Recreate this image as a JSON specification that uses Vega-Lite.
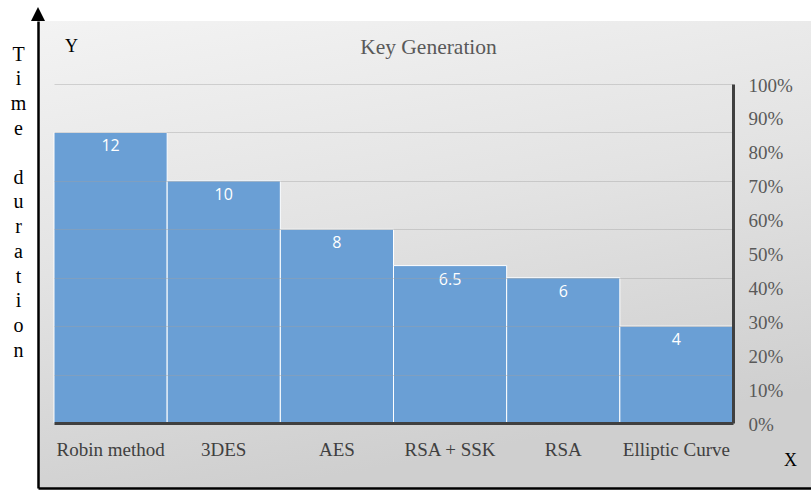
{
  "$schema": "https://vega.github.io/schema/vega-lite/v6.json",
  "width": 773,
  "height": 466,
  "autosize": {"type": "none"},
  "padding": {"left": 38, "top": 22, "right": 0, "bottom": 4},
  "background": "white",
  "config": {"view": {"stroke": null}, "font": "Liberation Serif"},
  "title": {
    "text": "Key Generation",
    "font": "Liberation Serif",
    "fontSize": 21.5,
    "fontWeight": "normal",
    "color": "#595959",
    "anchor": "middle",
    "frame": "group",
    "baseline": "alphabetic",
    "offset": -34,
    "dy": 34,
    "dx": 4
  },
  "layer": [
    {
      "data": {"values": [{"part": "frame"}]},
      "layer": [
        {
          "mark": {
            "type": "rect",
            "fill": {
              "gradient": "linear",
              "x1": 0, "y1": 0, "x2": 0.3, "y2": 1,
              "stops": [
                {"offset": 0, "color": "#f3f3f3"},
                {"offset": 0.5, "color": "#e3e3e3"},
                {"offset": 1, "color": "#cfcfcf"}
              ]
            }
          },
          "encoding": {
            "x": {
              "datum": 0,
              "type": "quantitative",
              "scale": {"domain": [0, 1]},
              "axis": {
                "orient": "bottom",
                "domainColor": "black",
                "domainWidth": 2.5,
                "ticks": false,
                "labels": false,
                "grid": false,
                "title": null,
                "zindex": 1
              }
            },
            "x2": {"datum": 1},
            "y": {
              "datum": 0,
              "type": "quantitative",
              "scale": {"domain": [0, 1], "range": [466, -1]},
              "axis": {
                "orient": "left",
                "domainColor": "black",
                "domainWidth": 2.5,
                "ticks": false,
                "labels": false,
                "grid": false,
                "title": ["T", "i", "m", "e"],
                "titleAngle": 0,
                "titleX": -20,
                "titleY": 38,
                "titleAlign": "center",
                "titleBaseline": "alphabetic",
                "titleLineHeight": 24.75,
                "titleFont": "Liberation Serif",
                "titleFontSize": 20,
                "titleFontWeight": "normal",
                "titleColor": "black",
                "zindex": 1
              }
            },
            "y2": {"datum": 1}
          }
        },
        {
          "mark": {"type": "point", "shape": "M-1,0L0,-2L1,0Z", "size": 196, "filled": true, "color": "black", "opacity": 1},
          "encoding": {
            "x": {"datum": 0, "type": "quantitative"},
            "y": {"datum": 1, "type": "quantitative"}
          }
        }
      ]
    },
    {
      "data": {
        "values": [
          {"method": "Robin method", "time": 12},
          {"method": "3DES", "time": 10},
          {"method": "AES", "time": 8},
          {"method": "RSA + SSK", "time": 6.5},
          {"method": "RSA", "time": 6},
          {"method": "Elliptic Curve", "time": 4}
        ]
      },
      "encoding": {
        "x": {
          "field": "method",
          "type": "nominal",
          "sort": null,
          "scale": {"type": "band", "range": [16, 695], "paddingInner": 0, "paddingOuter": 0},
          "axis": {
            "orient": "bottom",
            "offset": -65,
            "domainColor": "#404040",
            "domainWidth": 3,
            "ticks": false,
            "grid": false,
            "labelAngle": 0,
            "labelPadding": 17.5,
            "labelFont": "Liberation Serif",
            "labelFontSize": 19,
            "labelColor": "#404040",
            "title": "X",
            "titleX": 752,
            "titleY": 37,
            "titleAlign": "center",
            "titleBaseline": "middle",
            "titleFont": "Liberation Serif",
            "titleFontSize": 18,
            "titleFontWeight": "normal",
            "titleColor": "black",
            "zindex": 1
          }
        }
      },
      "layer": [
        {
          "mark": {"type": "bar", "color": "#6a9fd5", "stroke": "white", "strokeWidth": 1},
          "encoding": {
            "y": {
              "field": "time",
              "type": "quantitative",
              "scale": {"domain": [0, 14], "range": [401, 62], "nice": false},
              "axis": {
                "orient": "right",
                "offset": -78,
                "values": [0, 1.4, 2.8, 4.2, 5.6, 7, 8.4, 9.8, 11.2, 12.6, 14],
                "labelExpr": "format(datum.value / 14, '.0%')",
                "domainColor": "#404040",
                "domainWidth": 3,
                "ticks": false,
                "grid": false,
                "labelPadding": 15,
                "labelFont": "Liberation Serif",
                "labelFontSize": 19,
                "labelColor": "#595959",
                "labelOffset": 1,
                "title": "Y",
                "titleX": -662,
                "titleY": 24,
                "titleAngle": 0,
                "titleAlign": "center",
                "titleBaseline": "middle",
                "titleFont": "Liberation Serif",
                "titleFontSize": 18,
                "titleFontWeight": "normal",
                "titleColor": "black",
                "zindex": 1
              }
            }
          }
        },
        {
          "mark": {"type": "text", "baseline": "top", "dy": 6, "color": "white", "font": "Open Sans", "fontSize": 16},
          "encoding": {
            "y": {
              "field": "time",
              "type": "quantitative",
              "axis": {
                "orient": "left",
                "values": [0, 2, 4, 6, 8, 10, 12, 14],
                "grid": true,
                "gridColor": "#a0a0a0",
                "gridOpacity": 0.4,
                "gridWidth": 1,
                "domain": false,
                "labels": false,
                "ticks": false,
                "title": ["d", "u", "r", "a", "t", "i", "o", "n"],
                "titleAngle": 0,
                "titleX": -20,
                "titleY": 161,
                "titleAlign": "center",
                "titleBaseline": "alphabetic",
                "titleLineHeight": 24.75,
                "titleFont": "Liberation Serif",
                "titleFontSize": 20,
                "titleFontWeight": "normal",
                "titleColor": "black",
                "zindex": 1
              }
            },
            "text": {"field": "time", "type": "nominal"}
          }
        }
      ],
      "resolve": {"axis": {"y": "independent"}}
    }
  ],
  "resolve": {
    "scale": {"x": "independent", "y": "independent"},
    "axis": {"x": "independent", "y": "independent"}
  }
}
